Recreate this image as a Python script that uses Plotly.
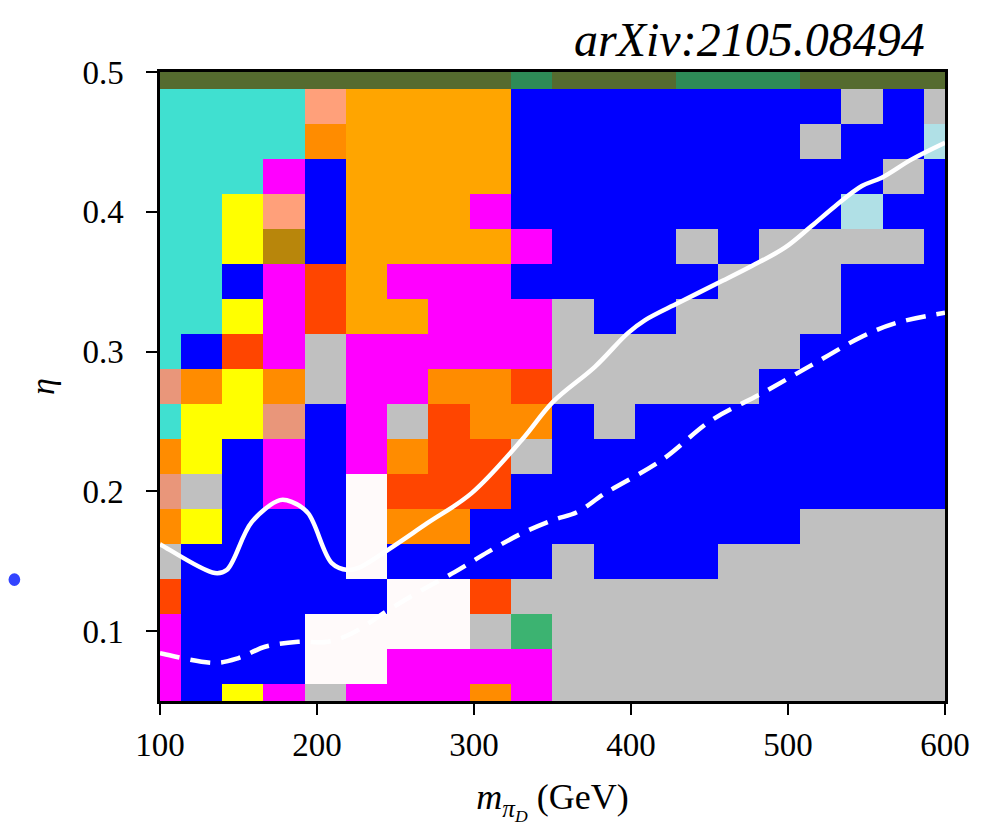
import numpy as np
import plotly.graph_objects as go

# ---------------- data ----------------
masses = np.linspace(100, 600, 20)          # m_piD (GeV), cell centres
etas = np.linspace(0.05, 0.5, 19)           # eta, cell centres

# category code per cell, rows from eta=0.05 (bottom) to eta=0.5 (top)
grid_rows = [
    "PBYPXPPPKPXXXXXXXXXX",
    "PBBBWWPPPPXXXXXXXXXX",
    "PBBBWWWWXMXXXXXXXXXX",
    "RBBBBBWWRXXXXXXXXXXX",
    "XBBBBWBBBBXBBBXXXXXX",
    "KYBBBWKKBBBBBBBBXXXX",
    "SXBPBWRRRBBBBBBBBBBB",
    "KYBPBPKRRXBBBBBBBBBB",
    "TYYSBPXRKKBXBBBBBBBB",
    "SKYKXPPKKRXXXXXBBBBB",
    "TBRPXPPPPPXXXXXXBBBB",
    "TTYPRAAPPPXBBXXXXBBB",
    "TTBPRAPPPBBBBBXXXBBB",
    "TTYDBAAAAPBBBXBXXXXB",
    "TTYLBAAAPBBBBBBBBQBB",
    "TTTPBAAAABBBBBBBBBXB",
    "TTTTKAAAABBBBBBBXBBQ",
    "TTTTLAAAABBBBBBBBXBX",
    "OOOOOOOOOGOOOGGGOOOO",
]

category_codes = list("TOGMYLSDBRKAPXWQ")
category_colors = ["#40E0D0", "#556B2F", "#2E8B57", "#3CB371", "#FFFF00",
                   "#FFA07A", "#E9967A", "#B8860B", "#0000FF", "#FF4500",
                   "#FF8C00", "#FFA500", "#FF00FF", "#C0C0C0", "#FFFAFA",
                   "#B0E0E6"]

# white solid curve
solid_x = [100, 101, 135, 142.5, 158.4, 176.4, 183.9, 194.3, 209.4, 219.7, 226,
           245, 270, 298.5, 330.4, 350.3, 377, 398, 409, 430, 455.4, 476.9,
           498, 515, 530, 547, 559.7, 578.8, 600]
solid_y = [0.162, 0.1615, 0.1415, 0.1437, 0.178, 0.1937, 0.1925, 0.1844, 0.1487,
           0.1437, 0.145, 0.158, 0.177, 0.1987, 0.2367, 0.264, 0.2891, 0.3132,
           0.3225, 0.3347, 0.349, 0.3612, 0.3743, 0.3898, 0.404, 0.4184, 0.4244,
           0.4375, 0.4494]

# white dashed curve
dash_x = [100, 101, 135, 150, 166.9, 188, 207, 222, 245.4, 266.7, 287.9, 309,
          330.4, 350.3, 366, 383.4, 419.5, 451.4, 483.2, 515, 547, 568, 600]
dash_y = [0.0842, 0.084, 0.0773, 0.0807, 0.0888, 0.0924, 0.0924, 0.0983, 0.115,
          0.1293, 0.1424, 0.1567, 0.1699, 0.1794, 0.1853, 0.1985, 0.2223, 0.251,
          0.27, 0.2903, 0.3106, 0.3202, 0.3278]

x_ticks = [100, 200, 300, 400, 500, 600]
y_ticks = [0.1, 0.2, 0.3, 0.4, 0.5]
y_tick_labels = ["0.1", "0.2", "0.3", "0.4", "0.5"]

# ---------------- figure ----------------
z = [[category_codes.index(ch) for ch in row] for row in grid_rows]
n = len(category_colors)
colorscale = []
for i, c in enumerate(category_colors):
    lo = max(0.0, (i - 0.5) / (n - 1))
    hi = min(1.0, (i + 0.5) / (n - 1))
    colorscale.append([lo, c])
    colorscale.append([hi, c])

FONT = "Liberation Serif"

fig = go.Figure()
fig.add_trace(go.Heatmap(x=masses, y=etas, z=z, colorscale=colorscale,
                         zmin=0, zmax=n - 1, showscale=False, hoverinfo="skip"))
fig.add_trace(go.Scatter(x=solid_x, y=solid_y, mode="lines",
                         line=dict(color="white", width=4.5, shape="spline"),
                         showlegend=False, hoverinfo="skip"))
fig.add_trace(go.Scatter(x=dash_x, y=dash_y, mode="lines",
                         line=dict(color="white", width=4.5, shape="spline",
                                   dash="20px,11px"),
                         showlegend=False, hoverinfo="skip"))

axis_common = dict(showline=True, linecolor="black", linewidth=2.5, mirror=True,
                   ticks="outside", ticklen=11, tickwidth=2, tickcolor="black",
                   showgrid=False, zeroline=False,
                   tickfont=dict(family=FONT, size=33, color="black"))

fig.update_xaxes(range=[100, 600], tickvals=x_ticks, ticklabelstandoff=2,
                 title=dict(text="<i>m</i><sub><i>π<sub>D</sub></i></sub> (GeV)",
                            font=dict(family=FONT, size=36, color="black"),
                            standoff=22),
                 **axis_common)
fig.update_yaxes(range=[0.05, 0.5], tickvals=y_ticks, ticktext=y_tick_labels,
                 ticklabelstandoff=16,
                 title=dict(text="<i>η</i>",
                            font=dict(family=FONT, size=34, color="black"),
                            standoff=18),
                 **axis_common)

fig.add_annotation(text="<i>arXiv:2105.08494</i>", xref="paper", yref="paper",
                   x=1.0, y=1.0, xanchor="right", yanchor="bottom",
                   xshift=-18, yshift=4, showarrow=False,
                   font=dict(family=FONT, size=48, color="black"))

# small blue blot at left edge
fig.add_shape(type="circle", xref="paper", yref="paper",
              x0=-0.193, x1=-0.178, y0=0.183, y1=0.203,
              fillcolor="#3344ff", line=dict(width=0))

# page body adds an 8px offset, so the figure is sized to fit the window
fig.update_layout(width=994, height=822,
                  margin=dict(l=152, r=57, t=64, b=129),
                  paper_bgcolor="white", plot_bgcolor="white")

fig.write_html("out.html")
